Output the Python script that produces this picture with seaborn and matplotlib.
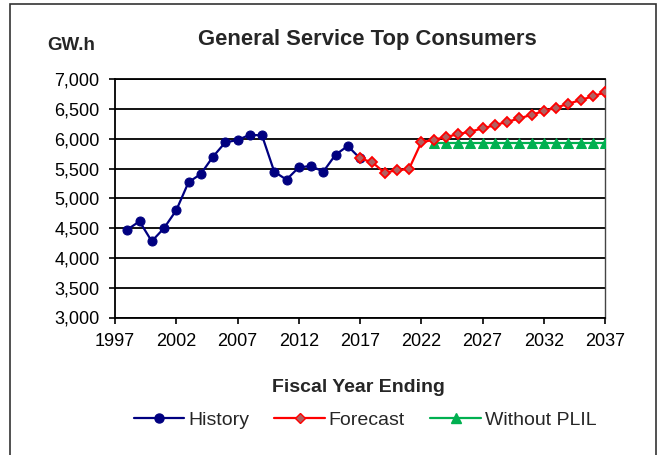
import matplotlib
matplotlib.use("Agg")
import matplotlib.pyplot as plt
from matplotlib.patches import Rectangle
from matplotlib.lines import Line2D
from matplotlib.ticker import FuncFormatter
import seaborn as sns
import pandas as pd

# Annual energy, GW.h
history_years = list(range(1998, 2018))
history_vals = [4475, 4615, 4280, 4500, 4800, 5270, 5410, 5700, 5940, 5980,
                6068, 6058, 5448, 5315, 5520, 5545, 5448, 5733, 5880, 5673]

forecast_years = list(range(2017, 2038))
forecast_vals = [5673, 5606, 5432, 5472, 5494, 5940, 5985, 6030, 6078, 6122,
                 6175, 6230, 6285, 6342, 6405, 6465, 6522, 6590, 6650, 6715, 6780]

noplil_years = list(range(2023, 2038))
noplil_vals = [5935] * 15

x_ticks = list(range(1997, 2038, 5))
y_ticks = list(range(3000, 7001, 500))

hist = pd.DataFrame({"year": history_years, "gwh": history_vals})
fcst = pd.DataFrame({"year": forecast_years, "gwh": forecast_vals})
nopl = pd.DataFrame({"year": noplil_years, "gwh": noplil_vals})

sns.set_style("white")
plt.rcParams["font.family"] = ["Liberation Sans", "DejaVu Sans"]

fig = plt.figure(figsize=(6.63, 4.55), dpi=100)
ax = fig.add_axes([115 / 663, 1 - 317.5 / 455, 490 / 663, (317.5 - 79.3) / 455])

navy = "#000080"
red = "#ff0000"
green = "#00b050"

sns.lineplot(data=hist, x="year", y="gwh", ax=ax, color=navy, lw=1.6,
             marker="o", markersize=6.5, markerfacecolor=navy,
             markeredgecolor=navy, zorder=3)
sns.lineplot(data=fcst, x="year", y="gwh", ax=ax, color=red, lw=1.6,
             marker="D", markersize=5, markerfacecolor="#b06060",
             markeredgecolor=red, markeredgewidth=1.3, zorder=4)
sns.lineplot(data=nopl, x="year", y="gwh", ax=ax, color=green, lw=1.6,
             marker="^", markersize=7, markerfacecolor=green,
             markeredgecolor=green, zorder=3)

ax.set_xlim(1997, 2037)
ax.set_ylim(3000, 7000)
ax.set_xticks(x_ticks)
ax.set_yticks(y_ticks)
ax.yaxis.set_major_formatter(FuncFormatter(lambda v, p: f"{int(v):,}"))
ax.grid(axis="y", color="black", lw=1.3)
ax.set_axisbelow(True)
for s in ax.spines.values():
    s.set_color("black")
    s.set_linewidth(1.3)
ax.spines["right"].set_color("#444444")
ax.spines["right"].set_linewidth(1.0)
ax.tick_params(axis="both", direction="out", length=4, width=1.2,
               colors="black", labelsize=13)
ax.tick_params(axis="y", left=True, pad=7)
ax.tick_params(axis="x", bottom=True, pad=7)
ax.set_xlabel("")
ax.set_ylabel("")

fig.text(367 / 663, 1 - 40 / 455, "General Service Top Consumers",
         ha="center", va="center", fontsize=15.8, fontweight="bold")
fig.text(47 / 663, 1 - 46 / 455, "GW.h", ha="left", va="center",
         fontsize=13.5, fontweight="bold")
fig.text(358 / 663, 1 - 388 / 455, "Fiscal Year Ending",
         ha="center", va="center", fontsize=14, fontweight="bold")

handles = [
    Line2D([], [], color=navy, lw=1.6, marker="o", markersize=6.5,
           markerfacecolor=navy),
    Line2D([], [], color=red, lw=1.6, marker="D", markersize=5,
           markerfacecolor="#b06060", markeredgecolor=red),
    Line2D([], [], color=green, lw=1.6, marker="^", markersize=7,
           markerfacecolor=green),
]
fig.legend(handles, ["History", "Forecast", "Without PLIL"],
           loc="center", bbox_to_anchor=(365 / 663, 1 - 420 / 455), ncol=3,
           frameon=False, fontsize=14, handlelength=2.6, handletextpad=0.2,
           columnspacing=1.3)

fig.add_artist(Rectangle((10 / 663, -0.05), 646 / 663, 1.05 - 4 / 455,
                         transform=fig.transFigure, fill=False,
                         edgecolor="#333333", lw=1.2))

fig.savefig("out.png", dpi=100)
